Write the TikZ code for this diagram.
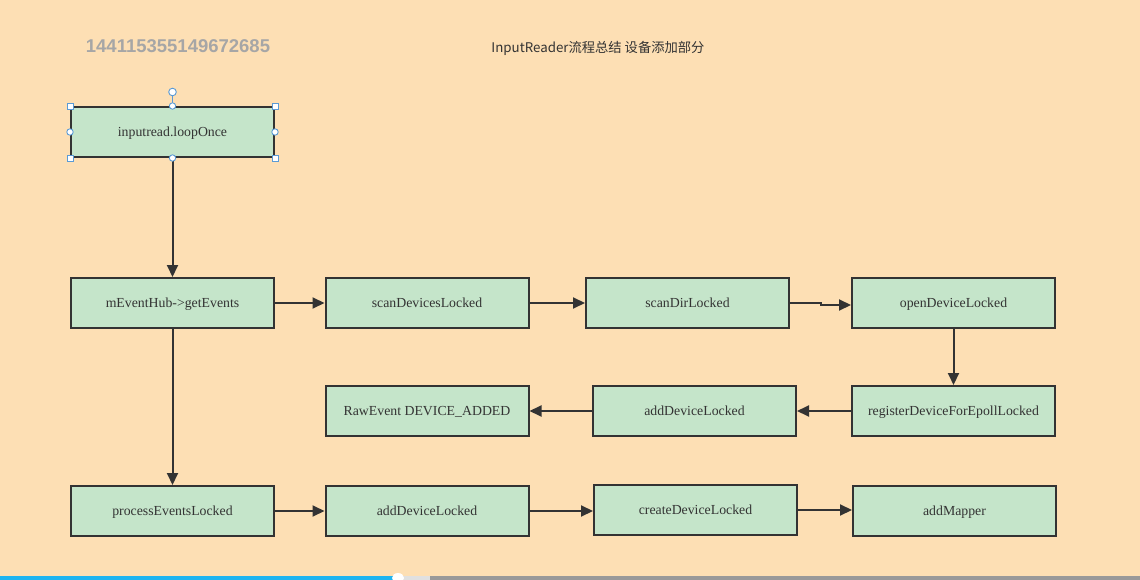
\documentclass[tikz,border=0pt]{standalone}
\usepackage{fontspec}
\setmainfont{Liberation Serif}
\newfontfamily\cjkfont{Noto Sans CJK SC}
\newfontfamily\numfont{Liberation Sans}
\usetikzlibrary{arrows.meta}
\definecolor{bgpeach}{HTML}{FDDFB4}
\definecolor{boxgreen}{HTML}{C5E5CA}
\definecolor{edgegray}{HTML}{333333}
\definecolor{handleblue}{HTML}{5B9BD5}
\definecolor{barblue}{HTML}{1EB4F0}
\begin{document}
\begin{tikzpicture}[x=1pt,y=-1pt,
  stepbox/.style={draw=edgegray,line width=2pt,fill=boxgreen,minimum width=203pt,minimum height=50pt,
    inner sep=0pt,text height=11pt,text depth=2pt,font=\fontsize{13.8}{16}\selectfont,text=black!80,anchor=center},
  flow/.style={draw=edgegray,line width=2pt,-{Triangle[length=12pt,width=11pt]}},
  handle/.style={draw=handleblue,fill=white,line width=0.9pt}]
\useasboundingbox (0,0) rectangle (1140,580);
\fill[bgpeach] (0,0) rectangle (1140,580);

% header texts
\node[text=black!35,font=\numfont\bfseries\fontsize{18.5}{20}\selectfont] (num) at (178,46) {144115355149672685};
\node[text=black!80,font=\cjkfont\fontsize{13.3}{15}\selectfont] (title) at (598,48) {InputReader流程总结 设备添加部分};

% flow boxes
\node[stepbox] (loop) at (172.5,132) {inputread.loopOnce};
\node[stepbox] (get) at (172.5,303) {mEventHub->getEvents};
\node[stepbox] (scanDev) at (427,303) {scanDevicesLocked};
\node[stepbox] (scanDir) at (687.5,303) {scanDirLocked};
\node[stepbox] (open) at (953.5,303) {openDeviceLocked};
\node[stepbox] (reg) at (953.5,411) {registerDeviceForEpollLocked};
\node[stepbox] (addMid) at (694.5,411) {addDeviceLocked};
\node[stepbox] (raw) at (427,411) {RawEvent DEVICE\_ADDED};
\node[stepbox] (proc) at (172.5,511) {processEventsLocked};
\node[stepbox] (addBot) at (427,511) {addDeviceLocked};
\node[stepbox] (create) at (695.5,510) {createDeviceLocked};
\node[stepbox] (mapper) at (954.5,511) {addMapper};

% connectors
\draw[flow] (loop.south) -- (get.north);
\draw[flow] (get.south) -- (proc.north);
\draw[flow] (get.east) -- (scanDev.west);
\draw[flow] (scanDev.east) -- (scanDir.west);
\coordinate (kink) at (821,303);
\draw[flow] (scanDir.east) -- (kink) -- ++(0,2) -- (open.west |- 0,305);
\draw[flow] (open.south) -- (reg.north);
\draw[flow] (reg.west) -- (addMid.east);
\draw[flow] (addMid.west) -- (raw.east);
\draw[flow] (proc.east) -- (addBot.west);
\draw[flow] (addBot.east) -- (create.west |- addBot.east);
\draw[flow] (create.east) -- (mapper.west |- create.east);

% selection handles on the first box
\coordinate (rot) at (172.5,92);
\draw[handleblue,line width=0.9pt] (loop.north) -- (rot);
\draw[handle] (rot) circle (3.8pt);
\foreach \a in {north west,north east,south west,south east}
  \draw[handle] ([shift={(-3pt,-3pt)}]loop.\a) rectangle ++(6pt,6pt);
\foreach \a in {north,south,east,west}
  \draw[handle] (loop.\a) circle (3.2pt);

% progress bar
\fill[black!40] (395,576) rectangle (1140,580);
\fill[black!12] (395,576) rectangle (430,580);
\fill[barblue] (0,576) rectangle (395,580);
\fill[white] (398,578) ellipse (6pt and 5pt);
\end{tikzpicture}
\end{document}
